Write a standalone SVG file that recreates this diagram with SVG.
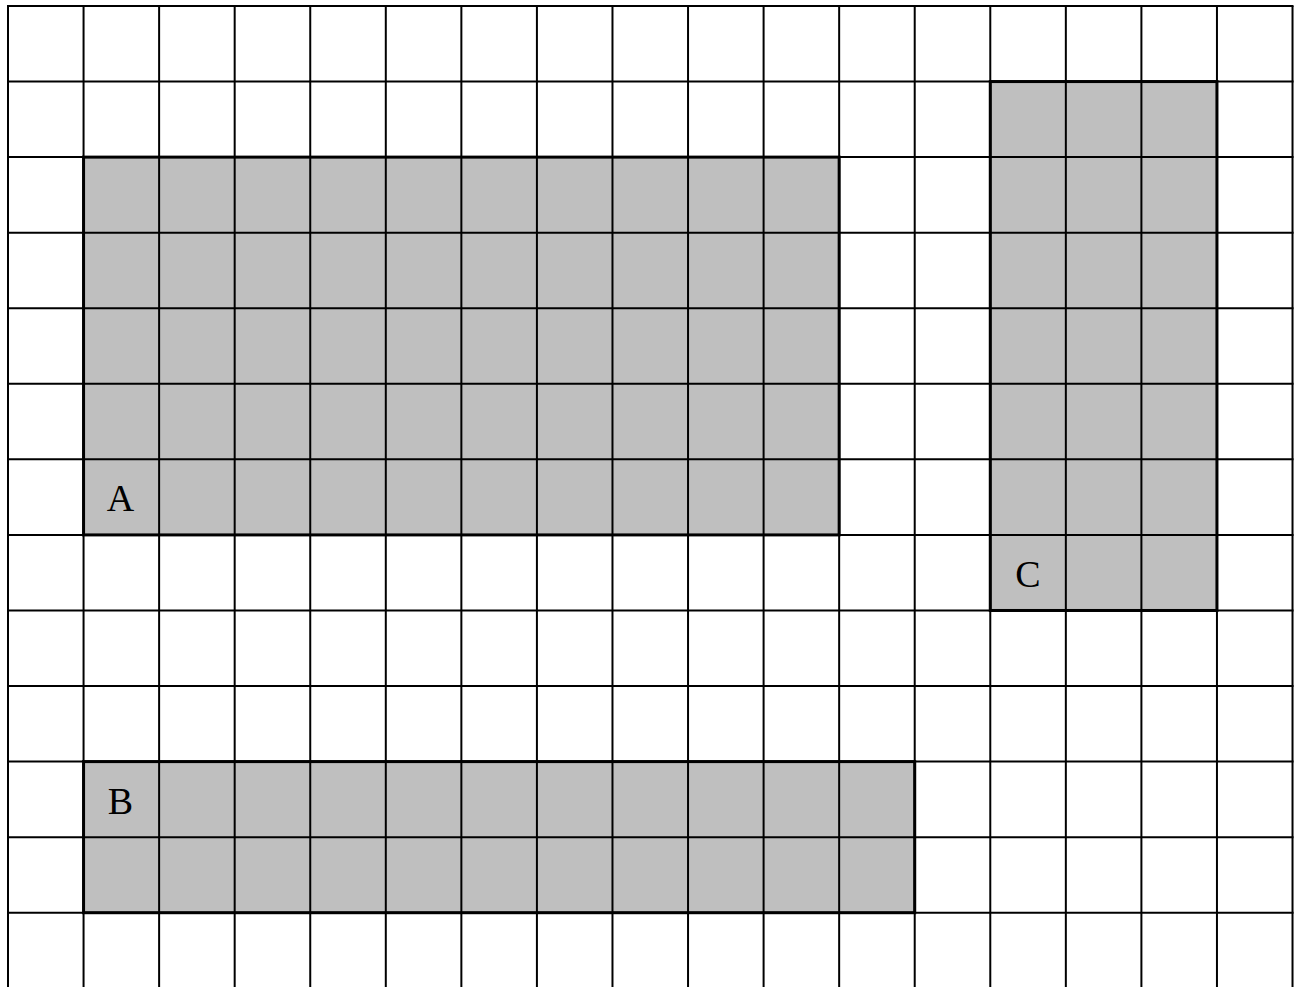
<svg xmlns="http://www.w3.org/2000/svg" width="1301" height="987" viewBox="0 0 1301 987">
<style>
.bg{fill:#ffffff}
.fill{fill:#bfbfbf;stroke:none}
.grid line{stroke:#000;stroke-width:2}
.border{fill:none;stroke:#000;stroke-width:3}
.lbl{font-family:"Liberation Serif","DejaVu Serif",serif;font-size:38px;fill:#000;text-anchor:middle}
</style>
<rect class="bg" x="0" y="0" width="1301" height="987"/>
<g id="fills">
<rect class="fill" x="83.56" y="157.12" width="755.6" height="377.8"/>
<rect class="fill" x="83.56" y="761.6" width="831.16" height="151.12"/>
<rect class="fill" x="990.28" y="81.56" width="226.68" height="528.92"/>
</g>
<g class="grid" id="connectors">
<line x1="8" y1="6" x2="8" y2="987"/>
<line x1="83.56" y1="6" x2="83.56" y2="987"/>
<line x1="159.12" y1="6" x2="159.12" y2="987"/>
<line x1="234.68" y1="6" x2="234.68" y2="987"/>
<line x1="310.24" y1="6" x2="310.24" y2="987"/>
<line x1="385.8" y1="6" x2="385.8" y2="987"/>
<line x1="461.36" y1="6" x2="461.36" y2="987"/>
<line x1="536.92" y1="6" x2="536.92" y2="987"/>
<line x1="612.48" y1="6" x2="612.48" y2="987"/>
<line x1="688.04" y1="6" x2="688.04" y2="987"/>
<line x1="763.6" y1="6" x2="763.6" y2="987"/>
<line x1="839.16" y1="6" x2="839.16" y2="987"/>
<line x1="914.72" y1="6" x2="914.72" y2="987"/>
<line x1="990.28" y1="6" x2="990.28" y2="987"/>
<line x1="1065.84" y1="6" x2="1065.84" y2="987"/>
<line x1="1141.4" y1="6" x2="1141.4" y2="987"/>
<line x1="1216.96" y1="6" x2="1216.96" y2="987"/>
<line x1="1292.52" y1="6" x2="1292.52" y2="987"/>
<line x1="7" y1="6" x2="1293.52" y2="6"/>
<line x1="7" y1="81.56" x2="1293.52" y2="81.56"/>
<line x1="7" y1="157.12" x2="1293.52" y2="157.12"/>
<line x1="7" y1="232.68" x2="1293.52" y2="232.68"/>
<line x1="7" y1="308.24" x2="1293.52" y2="308.24"/>
<line x1="7" y1="383.8" x2="1293.52" y2="383.8"/>
<line x1="7" y1="459.36" x2="1293.52" y2="459.36"/>
<line x1="7" y1="534.92" x2="1293.52" y2="534.92"/>
<line x1="7" y1="610.48" x2="1293.52" y2="610.48"/>
<line x1="7" y1="686.04" x2="1293.52" y2="686.04"/>
<line x1="7" y1="761.6" x2="1293.52" y2="761.6"/>
<line x1="7" y1="837.16" x2="1293.52" y2="837.16"/>
<line x1="7" y1="912.72" x2="1293.52" y2="912.72"/>
</g>
<g id="A">
<rect class="border" x="83.56" y="157.12" width="755.6" height="377.8"/>
<text class="lbl" x="120.5" y="511">A</text>
</g>
<g id="B">
<rect class="border" x="83.56" y="761.6" width="831.16" height="151.12"/>
<text class="lbl" x="120.5" y="814">B</text>
</g>
<g id="C">
<rect class="border" x="990.28" y="81.56" width="226.68" height="528.92"/>
<text class="lbl" x="1028" y="587">C</text>
</g>
</svg>
